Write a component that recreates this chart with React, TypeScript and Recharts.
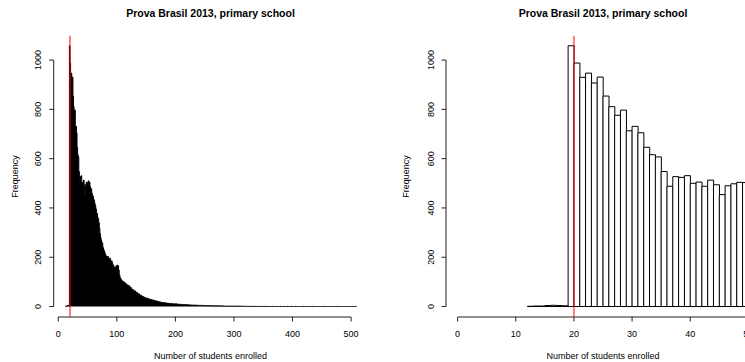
import React from 'react';
import { ComposedChart, Area, Bar, XAxis, YAxis, ReferenceLine } from 'recharts';

// Histogram of school enrolment counts, one-student-wide bins starting at 12
const firstBreak = 12;
const counts: number[] = [
  // 12-18
  1, 2, 2, 4, 5, 4, 3,
  // 19-49
  1058, 988, 930, 947, 907, 931, 854, 811, 776, 797, 713, 731, 705, 646, 616, 607,
  548, 488, 527, 524, 531, 500, 505, 488, 513, 494, 454, 490, 498, 504, 503,
  // 50-99
  498, 510, 492, 505, 486, 474, 478, 461, 452, 447,
  436, 430, 418, 409, 396, 382, 376, 362, 355, 340,
  318, 296, 281, 270, 262, 255, 240, 232, 226, 219,
  212, 206, 201, 204, 198, 202, 195, 190, 196, 188,
  180, 185, 176, 170, 166, 160, 156, 150, 162, 166,
  // 100-149
  158, 168, 164, 148, 130, 119, 114, 110, 106, 103,
  100, 102, 96, 98, 94, 90, 92, 88, 84, 86,
  82, 84, 79, 75, 76, 72, 69, 67, 68, 64,
  62, 63, 59, 57, 57, 54, 52, 50, 51, 47,
  45, 46, 43, 41, 42, 39, 37, 38, 35, 34,
  // 150-199
  35, 34, 33, 31, 32, 30, 29, 28, 29, 27,
  26, 27, 25, 24, 25, 23, 22, 23, 21, 20,
  21, 19, 18, 19, 17, 17, 18, 16, 16, 15,
  15, 16, 14, 15, 13, 14, 13, 14, 12, 13,
  12, 11, 12, 11, 12, 10, 11, 10, 10, 11,
  // 200-249
  10, 11, 9, 10, 9, 9, 10, 8, 9, 8,
  8, 9, 8, 7, 8, 7, 8, 7, 6, 8,
  7, 6, 7, 6, 6, 7, 6, 5, 6, 5,
  6, 6, 5, 6, 5, 5, 6, 5, 4, 5,
  5, 4, 5, 4, 5, 4, 4, 5, 4, 3,
  // 250-299
  4, 4, 3, 4, 3, 4, 3, 3, 4, 3,
  3, 4, 3, 3, 2, 3, 3, 2, 3, 3,
  3, 2, 3, 2, 3, 2, 2, 3, 2, 2,
  2, 3, 2, 2, 2, 2, 2, 1, 2, 2,
  2, 1, 2, 2, 1, 2, 1, 2, 2, 1,
  // 300-349
  2, 2, 1, 2, 2, 1, 2, 1, 2, 1,
  1, 2, 1, 1, 2, 1, 1, 0, 1, 1,
  1, 1, 0, 1, 1, 0, 1, 0, 1, 0,
  1, 0, 1, 0, 0, 1, 0, 1, 0, 0,
  1, 0, 0, 1, 0, 0, 0, 1, 0, 0,
  // 350-399
  0, 1, 0, 0, 0, 1, 0, 0, 0, 0,
  1, 0, 0, 0, 0, 0, 1, 0, 0, 0,
  0, 0, 1, 0, 0, 0, 0, 0, 0, 1,
  0, 0, 0, 0, 1, 0, 0, 0, 0, 0,
  0, 1, 0, 0, 0, 0, 0, 0, 1, 0,
  // 400-449
  0, 0, 0, 0, 0, 1, 0, 0, 0, 0,
  0, 0, 0, 0, 0, 0, 0, 0, 1, 0,
  0, 0, 0, 0, 0, 0, 0, 0, 0, 0,
  0, 0, 0, 1, 0, 0, 0, 0, 0, 0,
  0, 0, 0, 0, 0, 0, 0, 0, 0, 0,
  // 450-508
  0, 0, 0, 0, 1, 0, 0, 0, 0, 0,
  0, 0, 0, 0, 0, 0, 0, 0, 0, 0,
  0, 0, 0, 0, 0, 0, 0, 1, 0, 0,
  0, 0, 0, 0, 0, 0, 0, 0, 0, 0,
  0, 0, 0, 0, 0, 0, 0, 0, 0, 0,
  0, 0, 0, 0, 0, 0, 0, 0, 1,
];

const cutoff = 20;
const zoomMax = 50;
const leftXTicks = [0, 100, 200, 300, 400, 500];
const rightXTicks = [0, 10, 20, 30, 40, 50];
const yTicks = [0, 200, 400, 600, 800, 1000];
const titleText = 'Prova Brasil 2013, primary school';
const xLabel = 'Number of students enrolled';
const yLabel = 'Frequency';

const FONT = '"Liberation Sans", Arial, Helvetica, sans-serif';
const AXIS = '#222';

const yDomain: [number, number] = [-42.5, 1098.5];
const leftDomain: [number, number] = [-7.84, 527.84];
const rightDomain: [number, number] = [-2, 52];

// step outline for the full range: each point is a bin's left break
const stepData = counts
  .map((n, i) => ({ x: firstBreak + i, n }))
  .concat([{ x: firstBreak + counts.length, n: 0 }]);

// zoomed panel: bars centred on bin midpoints
const barData = counts
  .map((n, i) => ({ mid: firstBreak + i + 0.5, n }))
  .filter((d) => d.mid < zoomMax);

const yTick = (labelX: number) => (props: any) => {
  const { y, payload } = props;
  return (
    <text
      x={labelX}
      y={y}
      transform={`rotate(-90 ${labelX} ${y})`}
      textAnchor="middle"
      fontSize={9}
      fontFamily={FONT}
      fill="#000"
    >
      {payload.value}
    </text>
  );
};

const xTick = (props: any) => {
  const { x, payload } = props;
  return (
    <text x={x} y={337.4} textAnchor="middle" fontSize={9} fontFamily={FONT} fill="#000">
      {payload.value}
    </text>
  );
};

const FullHistogram = () => (
  <ComposedChart
    width={372}
    height={362}
    data={stepData}
    margin={{ top: 35.8, right: 4.6, bottom: 0, left: 0 }}
  >
    <XAxis
      dataKey="x"
      type="number"
      domain={leftDomain}
      allowDataOverflow
      ticks={leftXTicks}
      height={45}
      axisLine={false}
      tickSize={4.5}
      tickLine={{ stroke: AXIS }}
      tick={xTick}
      interval={0}
    />
    <YAxis
      type="number"
      domain={yDomain}
      allowDataOverflow
      ticks={yTicks}
      width={53.7}
      axisLine={false}
      tickSize={4.5}
      tickLine={{ stroke: AXIS }}
      tick={yTick(41.5)}
      interval={0}
    />
    <Area
      dataKey="n"
      type="stepAfter"
      baseValue={0}
      fill="#000"
      fillOpacity={1}
      stroke="#000"
      strokeWidth={1}
      dot={false}
      activeDot={false}
      isAnimationActive={false}
    />
    <ReferenceLine
      segment={[{ x: 0, y: yDomain[0] }, { x: 500, y: yDomain[0] }]}
      stroke={AXIS}
      ifOverflow="visible"
    />
    <ReferenceLine
      segment={[{ x: leftDomain[0], y: 0 }, { x: leftDomain[0], y: 1000 }]}
      stroke={AXIS}
      ifOverflow="visible"
    />
    <ReferenceLine x={cutoff} stroke="rgba(255,0,0,0.5)" strokeWidth={2} />
  </ComposedChart>
);

const ZoomHistogram = () => (
  <ComposedChart
    width={400}
    height={362}
    data={barData}
    margin={{ top: 35.8, right: 12, bottom: 0, left: 0 }}
    barCategoryGap={0}
    barGap={0}
  >
    <XAxis
      dataKey="mid"
      type="number"
      domain={rightDomain}
      allowDataOverflow
      ticks={rightXTicks}
      height={45}
      axisLine={false}
      tickSize={4.5}
      tickLine={{ stroke: AXIS }}
      tick={xTick}
      interval={0}
    />
    <YAxis
      type="number"
      domain={yDomain}
      allowDataOverflow
      ticks={yTicks}
      width={74}
      axisLine={false}
      tickSize={4.5}
      tickLine={{ stroke: AXIS }}
      tick={yTick(433.7 - 372)}
      interval={0}
    />
    <Bar dataKey="n" fill="#fff" stroke="#000" strokeWidth={1} isAnimationActive={false} />
    <ReferenceLine
      segment={[{ x: 0, y: yDomain[0] }, { x: zoomMax, y: yDomain[0] }]}
      stroke={AXIS}
      ifOverflow="visible"
    />
    <ReferenceLine
      segment={[{ x: rightDomain[0], y: 0 }, { x: rightDomain[0], y: 1000 }]}
      stroke={AXIS}
      ifOverflow="visible"
    />
    <ReferenceLine x={cutoff} stroke="rgba(255,0,0,0.5)" strokeWidth={2} />
  </ComposedChart>
);

const panels = [
  { center: 210.5, yLabelX: 18.5 },
  { center: 603, yLabelX: 409.5 },
];

export default function App() {
  return (
    <div
      style={{
        position: 'absolute',
        left: 0,
        top: 0,
        width: 745,
        height: 362,
        overflow: 'hidden',
        background: '#fff',
      }}
    >
      <div style={{ position: 'absolute', left: 0, top: 0 }}>
        <FullHistogram />
      </div>
      <div style={{ position: 'absolute', left: 372, top: 0 }}>
        <ZoomHistogram />
      </div>
      <svg
        width={745}
        height={362}
        style={{ position: 'absolute', left: 0, top: 0, pointerEvents: 'none' }}
      >
        {panels.map((p, i) => (
          <g key={i} fontFamily={FONT} fill="#000">
            <text x={p.center} y={17} textAnchor="middle" fontSize={10.5} fontWeight="bold">
              {titleText}
            </text>
            <text x={p.center} y={358.5} textAnchor="middle" fontSize={9}>
              {xLabel}
            </text>
            <text
              x={p.yLabelX}
              y={176.4}
              transform={`rotate(-90 ${p.yLabelX} 176.4)`}
              textAnchor="middle"
              fontSize={9}
            >
              {yLabel}
            </text>
          </g>
        ))}
      </svg>
    </div>
  );
}
